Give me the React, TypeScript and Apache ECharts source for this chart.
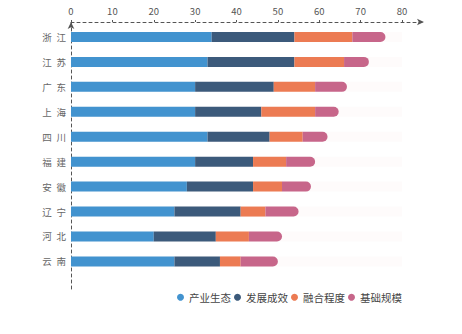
import React, { useEffect, useRef } from "react";
import * as echarts from "echarts";

const categories = ["浙江", "江苏", "广东", "上海", "四川", "福建", "安徽", "辽宁", "河北", "云南"];
const seriesNames = ["产业生态", "发展成效", "融合程度", "基础规模"];
const industryEcology = [34, 33, 30, 30, 33, 30, 28, 25, 20, 25];
const developmentResults = [20, 21, 19, 16, 15, 14, 16, 16, 15, 11];
const integrationDegree = [14, 12, 10, 13, 8, 8, 7, 6, 8, 5];
const basicScale = [8, 6, 7.7, 5.7, 6, 7, 7, 8, 8, 9];
const tickValues = [0, 10, 20, 30, 40, 50, 60, 70, 80];
const colors = ["#4293cf", "#3c5a7b", "#ec7b53", "#c7668a"];

export default function App() {
  const ref = useRef<HTMLDivElement>(null);
  useEffect(() => {
    if (!ref.current) return;
    const chart = echarts.init(ref.current, undefined, { renderer: "svg" });
    const unit = 331 / 80;
    const axisMax = (424 - 71) / unit;
    const lineStyle = { color: "#555", type: [3, 3] as any, width: 1 };
    const values = [industryEcology, developmentResults, integrationDegree, basicScale];
    chart.setOption({
      animation: false,
      textStyle: { fontFamily: "'Noto Sans CJK SC', 'Noto Sans', sans-serif" },
      grid: [
        { left: 71, width: 331, top: 24.5, height: 249.4, containLabel: false },
        { left: 71, width: 353, top: 22, height: 270, containLabel: false },
      ],
      legend: {
        data: seriesNames,
        left: 177,
        top: 292,
        padding: 0,
        icon: "circle",
        itemWidth: 7,
        itemHeight: 7,
        itemGap: 3,
        textStyle: { fontSize: 10.5, color: "#444" },
      },
      xAxis: [
        { type: "value", gridIndex: 0, min: 0, max: 80, show: false },
        {
          type: "value",
          gridIndex: 1,
          position: "top",
          min: 0,
          max: axisMax,
          interval: 10,
          splitLine: { show: false },
          axisLine: { show: true, lineStyle, symbol: ["none", "arrow"], symbolSize: [5, 7] },
          axisTick: { show: true, length: 2, inside: false, customValues: tickValues, lineStyle: { color: "#555" } },
          axisLabel: { customValues: tickValues, fontSize: 9.5, color: "#555", margin: 6 },
        },
      ],
      yAxis: [
        {
          type: "category",
          gridIndex: 0,
          inverse: true,
          data: categories,
          axisLine: { show: false },
          axisTick: { show: false },
          axisLabel: {
            fontSize: 9.5,
            color: "#666",
            margin: 5,
            formatter: (v: string) => v.split("").join("\u2002"),
          },
        },
        {
          type: "value",
          gridIndex: 1,
          inverse: true,
          min: 0,
          max: 1,
          axisLine: { show: true, lineStyle, symbol: ["none", "arrow"], symbolSize: [5, 7] },
          axisTick: { show: false },
          axisLabel: { show: false },
          splitLine: { show: false },
        },
      ],
      series: seriesNames.map((name, i) => ({
        name,
        type: "bar",
        stack: "total",
        xAxisIndex: 0,
        yAxisIndex: 0,
        barWidth: 10,
        data: values[i],
        itemStyle: {
          color: colors[i],
          borderRadius: i === 3 ? [0, 5, 5, 0] : 0,
        },
        showBackground: i === 0,
        backgroundStyle: { color: "rgba(250, 236, 236, 0.22)" },
      })),
    });
    return () => chart.dispose();
  }, []);
  return <div ref={ref} style={{ width: 462, height: 334, marginTop: -8, marginLeft: -8 }} />;
}
